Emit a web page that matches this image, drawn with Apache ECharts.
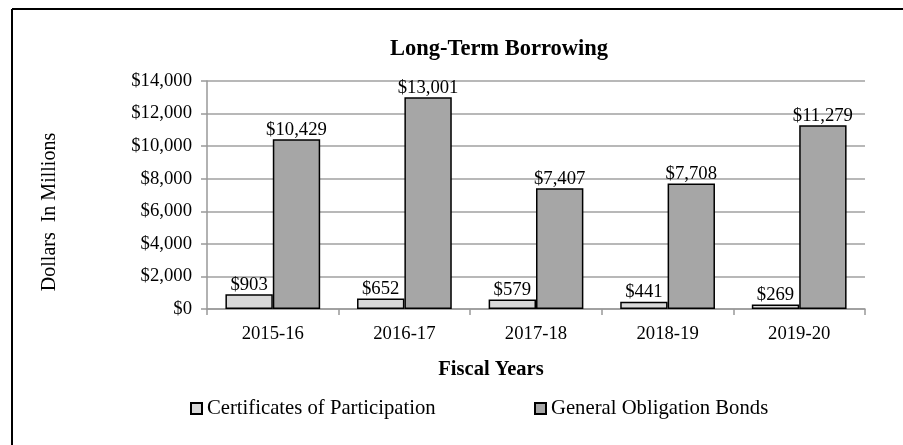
<!DOCTYPE html>
<html><head><meta charset="utf-8">
<script src="https://cdn.jsdelivr.net/npm/echarts@6/dist/echarts.min.js"></script>
<style>html,body{margin:0;padding:0;background:#fff}#c{width:903px;height:445px}</style>
</head><body><div id="c"></div>
<script>
var categories = ['2015-16','2016-17','2017-18','2018-19','2019-20'];
var copValues = [903, 652, 579, 441, 269];
var gobValues = [10429, 13001, 7407, 7708, 11279];
var seriesNames = ['Certificates of Participation', 'General Obligation Bonds'];
var yTicks = {min: 0, max: 14000, interval: 2000};

var FONT = '"Liberation Serif", "Times New Roman", serif';
function money(v){ return '$' + Number(v).toLocaleString('en-US'); }

var chart = echarts.init(document.getElementById('c'), null, {renderer:'canvas'});
var labelStyle = {show:true, position:'top', distance:0, color:'#000', fontFamily:FONT, fontSize:18.7,
  formatter:function(p){return money(p.value);}};
var legendText = {fontFamily:FONT, fontSize:20.7, color:'#000'};
chart.setOption({
  animation:false,
  backgroundColor:'#fff',
  title:{text:'Long-Term Borrowing', left:499, top:38, textAlign:'center', padding:0,
    textStyle:{fontFamily:FONT, fontSize:22.5, fontWeight:'bold', color:'#000'}},
  legend:[
    {data:[seriesNames[0]], left:190, top:398, padding:0, itemWidth:11, itemHeight:11, itemGap:0,
      textStyle:legendText, icon:'rect'},
    {data:[seriesNames[1]], left:534, top:398, padding:0, itemWidth:11, itemHeight:11, itemGap:0,
      textStyle:legendText, icon:'rect'}
  ],
  grid:{left:207, right:38, top:81, bottom:136},
  xAxis:{type:'category', data:categories,
    axisLine:{lineStyle:{color:'#999', width:1.5}},
    axisTick:{show:true, length:6, lineStyle:{color:'#999', width:1.5}},
    axisLabel:{color:'#000', fontFamily:FONT, fontSize:18.7, margin:16}},
  yAxis:{type:'value', min:yTicks.min, max:yTicks.max, interval:yTicks.interval,
    axisLine:{show:true, lineStyle:{color:'#999', width:1.5}},
    axisTick:{show:true, length:6, lineStyle:{color:'#999', width:1.5}},
    splitLine:{lineStyle:{color:'#a0a0a0', width:1.5}},
    axisLabel:{color:'#000', fontFamily:FONT, fontSize:18.7, margin:15, formatter:money}},
  graphic:[
    {type:'line', shape:{x1:12, y1:9, x2:903, y2:9}, style:{stroke:'#000', lineWidth:2}},
    {type:'line', shape:{x1:12, y1:9, x2:12, y2:445}, style:{stroke:'#000', lineWidth:2}},
    {type:'text', x:50, y:212, rotation:Math.PI/2,
      style:{text:'Dollars  In Millions', fill:'#000', font:'20px ' + FONT, textAlign:'center', textVerticalAlign:'middle'}},
    {type:'text', x:491, y:370,
      style:{text:'Fiscal Years', fill:'#000', font:'bold 20.5px ' + FONT, textAlign:'center', textVerticalAlign:'middle'}}
  ],
  series:[
    {name:seriesNames[0], type:'bar', data:copValues, barGap:'0%', barCategoryGap:'28%',
      itemStyle:{color:'#d9d9d9', borderColor:'#000', borderWidth:1.5}, label:labelStyle},
    {name:seriesNames[1], type:'bar', data:gobValues, barGap:'0%', barCategoryGap:'28%',
      itemStyle:{color:'#a6a6a6', borderColor:'#000', borderWidth:1.5}, label:labelStyle}
  ]
});
</script></body></html>
